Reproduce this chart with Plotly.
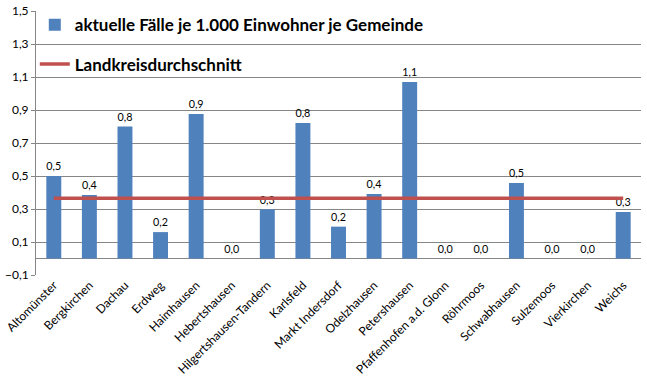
import plotly.graph_objects as go

gemeinden = ["Altomünster", "Bergkirchen", "Dachau", "Erdweg", "Haimhausen",
             "Hebertshausen", "Hilgertshausen-Tandern", "Karlsfeld", "Markt Indersdorf",
             "Odelzhausen", "Petershausen", "Pfaffenhofen a.d. Glonn", "Röhrmoos",
             "Schwabhausen", "Sulzemoos", "Vierkirchen", "Weichs"]
faelle = [0.50, 0.385, 0.80, 0.16, 0.876, 0.0, 0.298, 0.821, 0.193,
          0.391, 1.07, 0.0, 0.0, 0.458, 0.0, 0.0, 0.282]
durchschnitt = [0.365] * len(gemeinden)

y_ticks = [-0.1, 0.1, 0.3, 0.5, 0.7, 0.9, 1.1, 1.3, 1.5]

FONT = "Lato, 'Open Sans', sans-serif"
GRID = "#868686"

fig = go.Figure()
fig.add_trace(go.Bar(
    x=gemeinden, y=faelle, name="aktuelle Fälle je 1.000 Einwohner je Gemeinde",
    marker=dict(color="#4F81BD", line=dict(width=0)),
    texttemplate="%{y:.1f}", textposition="outside",
    textfont=dict(family=FONT, size=12, color="#000000"),
    cliponaxis=False, legendgroup="a",
))
fig.add_trace(go.Scatter(
    x=gemeinden, y=durchschnitt, name="Landkreisdurchschnitt", mode="lines",
    line=dict(color="#C0504D", width=3.5), legendgroup="b",
))

y0, y1 = -0.1, 1.5
zero_pos = (0 - y0) / (y1 - y0)

fig.update_layout(
    width=647, height=385,
    margin=dict(l=36, r=6, t=11, b=110, autoexpand=False),
    paper_bgcolor="white", plot_bgcolor="white",
    separators=",.",
    bargap=0.58,
    showlegend=True,
    legend=dict(x=-0.002, y=1.014, xanchor="left", yanchor="top",
                bgcolor="rgba(0,0,0,0)",
                font=dict(family=FONT, size=17, color="#000000", weight="bold"),
                traceorder="grouped", tracegroupgap=14, itemwidth=30),
    font=dict(family=FONT, size=12, color="#000000"),
    xaxis=dict(type="category", range=[-0.5, 16.5], tickangle=-45,
               showgrid=False, ticks="", showline=False, automargin=False,
               tickfont=dict(family=FONT, size=12, color="#000000")),
    xaxis2=dict(type="category", categoryorder="array", categoryarray=gemeinden,
                range=[-0.5, 16.5], overlaying="x",
                anchor="free", position=zero_pos, showticklabels=False,
                ticks="outside", tickson="boundaries", ticklen=5,
                tickcolor=GRID, showline=True, linecolor=GRID, linewidth=1,
                showgrid=False, automargin=False, side="bottom", layer="above traces"),
    yaxis=dict(range=[y0, y1], tickvals=y_ticks, tickformat=".1f",
               showgrid=True, gridcolor=GRID, gridwidth=1,
               zeroline=True, zerolinecolor=GRID, zerolinewidth=1,
               showline=True, linecolor=GRID,
               ticks="outside", ticklen=4, tickcolor=GRID, automargin=False,
               tickfont=dict(family=FONT, size=12, color="#000000")),
)

fig.write_html("out.html", config={"displayModeBar": False},
               post_script="document.body.style.margin='0';document.body.style.padding='0';")
